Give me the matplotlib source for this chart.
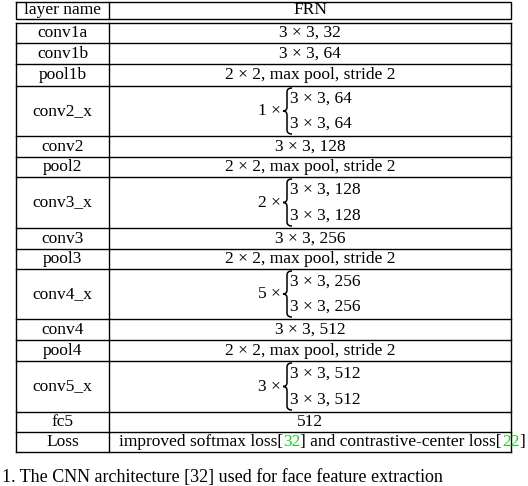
import matplotlib
matplotlib.use('Agg')
import matplotlib.pyplot as plt
from matplotlib.path import Path
from matplotlib.patches import PathPatch

plt.rcParams['font.family'] = 'Liberation Serif'

names = ['conv1a', 'conv1b', 'pool1b', 'conv2_x', 'conv2', 'pool2', 'conv3_x',
         'conv3', 'pool3', 'conv4_x', 'conv4', 'pool4', 'conv5_x', 'fc5', 'Loss']
specs = ['3 × 3, 32', '3 × 3, 64', '2 × 2, max pool, stride 2',
         ('1', '64'), '3 × 3, 128', '2 × 2, max pool, stride 2',
         ('2', '128'), '3 × 3, 256', '2 × 2, max pool, stride 2',
         ('5', '256'), '3 × 3, 512', '2 × 2, max pool, stride 2',
         ('3', '512'), '512', 'loss']
# row boundaries (pixels)
bounds = [23, 43, 64, 86, 136, 157, 177, 228, 249, 269, 319, 340, 361, 412, 432, 452]

W, H = 528, 486
fig = plt.figure(figsize=(W / 100, H / 100), dpi=100)
ax = fig.add_axes([0, 0, 1, 1])
ax.set_xlim(0, W)
ax.set_ylim(H, 0)
ax.axis('off')

L, M, R = 16, 109, 511
fs = 12.5
lk = dict(color='black', lw=1.0)

# header box
ax.plot([L, R, R, L, L], [2, 2, 19, 19, 2], **lk)
ax.plot([M, M], [2, 19], **lk)
ax.text((L + M) / 2, 10.5, 'layer name', ha='center', va='center', fontsize=fs)
ax.text((M + R) / 2, 10.5, 'FRN', ha='center', va='center', fontsize=fs)

# body
top, bot = bounds[0], bounds[-1]
ax.plot([L, L], [top, bot], **lk)
ax.plot([R, R], [top, bot], **lk)
ax.plot([M, M], [top, bot], **lk)
for y in bounds:
    ax.plot([L, R], [y, y], **lk)

for i, (n, s) in enumerate(zip(names, specs)):
    y0, y1 = bounds[i], bounds[i + 1]
    yc = (y0 + y1) / 2
    ax.text((L + M) / 2, yc, n, ha='center', va='center', fontsize=fs)
    if isinstance(s, tuple):
        k, c = s
        bx = 287
        ax.text(bx - 6, yc, k + ' ×', ha='right', va='center', fontsize=fs)
        h = (y1 - y0) / 2 - 2
        verts = [(bx + 5, yc - h), (bx, yc - h), (bx, yc - h + 4), (bx, yc - 4),
                 (bx, yc), (bx - 4, yc), (bx, yc), (bx, yc + 4),
                 (bx, yc + h - 4), (bx, yc + h), (bx + 5, yc + h)]
        codes = [Path.MOVETO, Path.CURVE3, Path.CURVE3, Path.LINETO,
                 Path.CURVE3, Path.CURVE3, Path.CURVE3, Path.CURVE3,
                 Path.LINETO, Path.CURVE3, Path.CURVE3]
        ax.add_patch(PathPatch(Path(verts, codes), fill=False, lw=1.1))
        for dy in (-h / 2 - 1, h / 2 + 1):
            ax.text(bx + 3, yc + dy, '3 × 3, ' + c, ha='left', va='center', fontsize=fs)
    elif s == 'loss':
        xs = 119
        parts = [('improved softmax loss[', 'black'), ('32', '#22cc22'),
                 ('] and contrastive-center loss[', 'black'), ('22', '#22cc22'), (']', 'black')]
        t = None
        for txt, col in parts:
            if t is None:
                t = ax.text(xs, yc, txt, ha='left', va='center', fontsize=fs, color=col)
            else:
                t = ax.annotate(txt, xycoords=t, xy=(1, 0.5), va='center', ha='left',
                                fontsize=fs, color=col)
    else:
        ax.text((M + R) / 2, yc, s, ha='center', va='center', fontsize=fs)

# caption, mostly below the picture in the reference
ax.text(2, 477, '1. The CNN architecture [32] used for face feature extraction',
        ha='left', va='center', fontsize=13)

fig.savefig('out.png', dpi=100)
